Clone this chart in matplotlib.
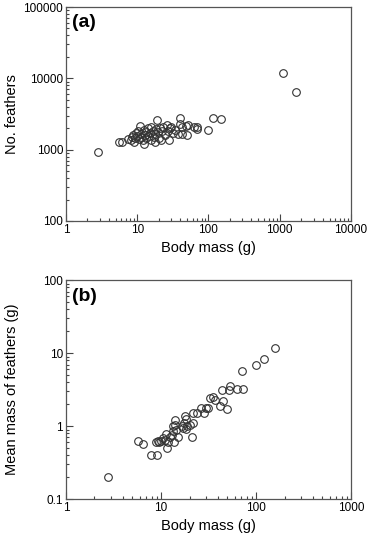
import numpy as np
import matplotlib.pyplot as plt
from matplotlib.ticker import LogLocator, FixedLocator, NullFormatter

plt.rcParams['font.family'] = ['Liberation Sans', 'DejaVu Sans']

# panel (a): body mass (g) vs number of feathers
mass_a = [2.8, 5.6, 6.2, 7.5, 8.2, 8.5, 8.8, 9.0, 9.3, 9.5, 9.8, 10.2, 10.5, 11.0,
          11.2, 11.5, 12.0, 12.3, 12.5, 13.0, 13.2, 13.5, 14.0, 14.5, 15.0, 15.5,
          15.8, 16.5, 17.0, 17.5, 18.0, 18.5, 19.0, 19.5, 20.0, 21, 21.5, 22, 23,
          24.5, 26, 27, 28, 29, 30, 32, 34, 37, 40, 40.5, 42, 43, 49, 50, 52, 62,
          68, 68, 97, 115, 150, 1120, 1700]
feathers_a = [940, 1280, 1300, 1400, 1350, 1500, 1600, 1300, 1450, 1700, 1550, 1800,
              1400, 2150, 1650, 1500, 1350, 1200, 1900, 1600, 1750, 1450, 2000, 1550,
              1700, 1350, 2100, 1850, 1500, 1300, 1650, 1950, 2600, 1750, 1450, 2000,
              1350, 1800, 2100, 1600, 2250, 1850, 1380, 2000, 2050, 1700, 1900, 1650,
              2800, 2280, 1650, 2050, 2160, 1600, 2200, 2100, 2100, 1950, 1900, 2750,
              2650, 12000, 6500]

# panel (b): body mass (g) vs mean mass of feathers (g)
mass_b = [2.8, 5.8, 6.4, 7.8, 8.8, 9.0, 9.3, 9.6, 10.0, 10.5, 11.0, 11.3, 11.5, 12.0,
          12.5, 13.0, 13.3, 13.5, 13.8, 14.0, 14.2, 14.5, 15.0, 16.5, 17.0, 17.5,
          18.0, 18.3, 18.5, 19.0, 20.0, 21.0, 21.5, 22.0, 24.0, 26.5, 28.5, 30.0,
          31.0, 33.0, 35.5, 37.0, 42.0, 43.5, 45.0, 50.0, 52.0, 53.0, 63.0, 72.0,
          73.0, 100, 122, 160]
plumage_b = [0.2, 0.63, 0.57, 0.4, 0.6, 0.4, 0.62, 0.6, 0.63, 0.68, 0.65, 0.78, 0.5,
             0.6, 0.7, 0.75, 1.0, 0.85, 0.6, 1.2, 1.05, 0.9, 0.72, 1.0, 0.95, 1.1,
             1.4, 1.25, 0.92, 1.0, 1.05, 0.7, 1.1, 1.5, 1.5, 1.75, 1.5, 1.8, 1.8,
             2.4, 2.55, 2.3, 1.9, 3.1, 2.2, 1.7, 3.1, 3.6, 3.2, 5.7, 3.2, 6.8, 8.3,
             11.8]

ticks_a_x = [1, 10, 100, 1000, 10000]
ticks_a_y = [100, 1000, 10000, 100000]
ticks_b_x = [1, 10, 100, 1000]
ticks_b_y = [0.1, 1, 10, 100]

fig = plt.figure(figsize=(3.68, 5.39), dpi=100)
axa = fig.add_axes([0.179, 0.590, 0.775, 0.397])
axb = fig.add_axes([0.179, 0.074, 0.775, 0.406])

def style(ax, xt, yt, letter, ylab):
    ax.set_xscale('log')
    ax.set_yscale('log')
    ax.set_xlim(xt[0], xt[-1])
    ax.set_ylim(yt[0], yt[-1])
    ax.xaxis.set_major_locator(FixedLocator(xt))
    ax.yaxis.set_major_locator(FixedLocator(yt))
    ax.set_xticklabels([f'{v:g}' for v in xt])
    ax.set_yticklabels([f'{v:g}' for v in yt])
    ax.xaxis.set_minor_locator(LogLocator(base=10, subs=np.arange(2, 10)))
    ax.yaxis.set_minor_locator(LogLocator(base=10, subs=np.arange(2, 10)))
    ax.xaxis.set_minor_formatter(NullFormatter())
    ax.yaxis.set_minor_formatter(NullFormatter())
    ax.tick_params(which='both', direction='in', top=False, right=False,
                   color='#444444', width=0.8)
    ax.tick_params(which='major', length=5, labelsize=8.5, pad=2)
    ax.tick_params(which='minor', length=2.5)
    for s in ax.spines.values():
        s.set_color('#555555')
        s.set_linewidth(0.9)
    ax.set_xlabel('Body mass (g)', fontsize=10.5, labelpad=4)
    ax.set_ylabel(ylab, fontsize=10.5)
    ax.yaxis.set_label_coords(-0.165, 0.5)
    ax.text(0.02, 0.965, letter, transform=ax.transAxes, fontsize=14,
            fontweight='bold', va='top', ha='left')

axa.plot(mass_a, feathers_a, 'o', mfc='none', mec='#333333', ms=5.5, mew=0.8)
style(axa, ticks_a_x, ticks_a_y, '(a)', 'No. feathers')

axb.plot(mass_b, plumage_b, 'o', mfc='none', mec='#333333', ms=5.5, mew=0.8)
style(axb, ticks_b_x, ticks_b_y, '(b)', 'Mean mass of feathers (g)')

fig.savefig('out.png', dpi=100)
